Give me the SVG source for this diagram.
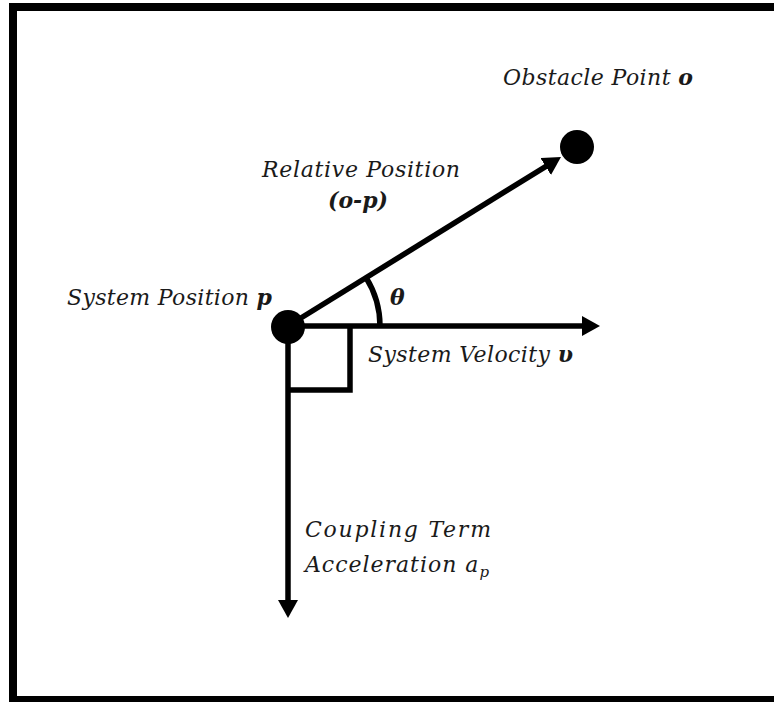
<svg xmlns="http://www.w3.org/2000/svg" width="774" height="702" viewBox="0 0 774 702">
<style>
.t{font-family:"DejaVu Serif","Liberation Serif",serif;font-style:italic;font-size:22px;fill:#1a1a1a}
.b{font-weight:bold}
.ln{stroke:#000;stroke-width:5.5;fill:none}
</style>
<defs>
<marker id="ah" markerWidth="18" markerHeight="20" refX="8" refY="10" orient="auto" markerUnits="userSpaceOnUse" viewBox="0 0 18 20">
<path d="M0,0 L18,10 L0,20 z" fill="#000"/>
</marker>
</defs>
<rect x="0" y="0" width="774" height="702" fill="#fff"/>
<path d="M13,702 V7 H774 M13,700 H774" stroke="#000" stroke-width="8" fill="none"/>
<g id="connectors">
<line class="ln" x1="288" y1="326" x2="590" y2="326" marker-end="url(#ah)"/>
<line class="ln" x1="288" y1="326" x2="288" y2="608" marker-end="url(#ah)"/>
<line class="ln" x1="288" y1="326" x2="552.5" y2="162.3" marker-end="url(#ah)"/>
<polyline class="ln" points="288,390 350,390 350,326"/>
<path class="ln" d="M380,326 A92,92 0 0 0 366,277.5"/>
</g>
<g id="system">
<circle cx="288" cy="327" r="17" fill="#000"/>
<text class="t" x="67" y="305" textLength="205" lengthAdjust="spacing">System Position <tspan class="b">p</tspan></text>
</g>
<g id="obstacle">
<circle cx="577" cy="147" r="17" fill="#000"/>
<text class="t" x="503" y="85" textLength="190" lengthAdjust="spacing">Obstacle Point <tspan class="b">o</tspan></text>
</g>
<g id="relative">
<text class="t" x="262" y="177" textLength="198" lengthAdjust="spacing">Relative Position</text>
<text class="t b" x="328" y="208">(o-p)</text>
</g>
<g id="theta">
<text class="t b" x="390" y="305">θ</text>
</g>
<g id="velocity">
<text class="t" x="368" y="362" textLength="205" lengthAdjust="spacing">System Velocity <tspan class="b">υ</tspan></text>
</g>
<g id="acceleration">
<text class="t" x="305" y="537" textLength="186" lengthAdjust="spacing">Coupling Term</text>
<text class="t" x="305" y="572" textLength="184" lengthAdjust="spacing">Acceleration a<tspan font-size="15" dy="5">p</tspan></text>
</g>
</svg>
